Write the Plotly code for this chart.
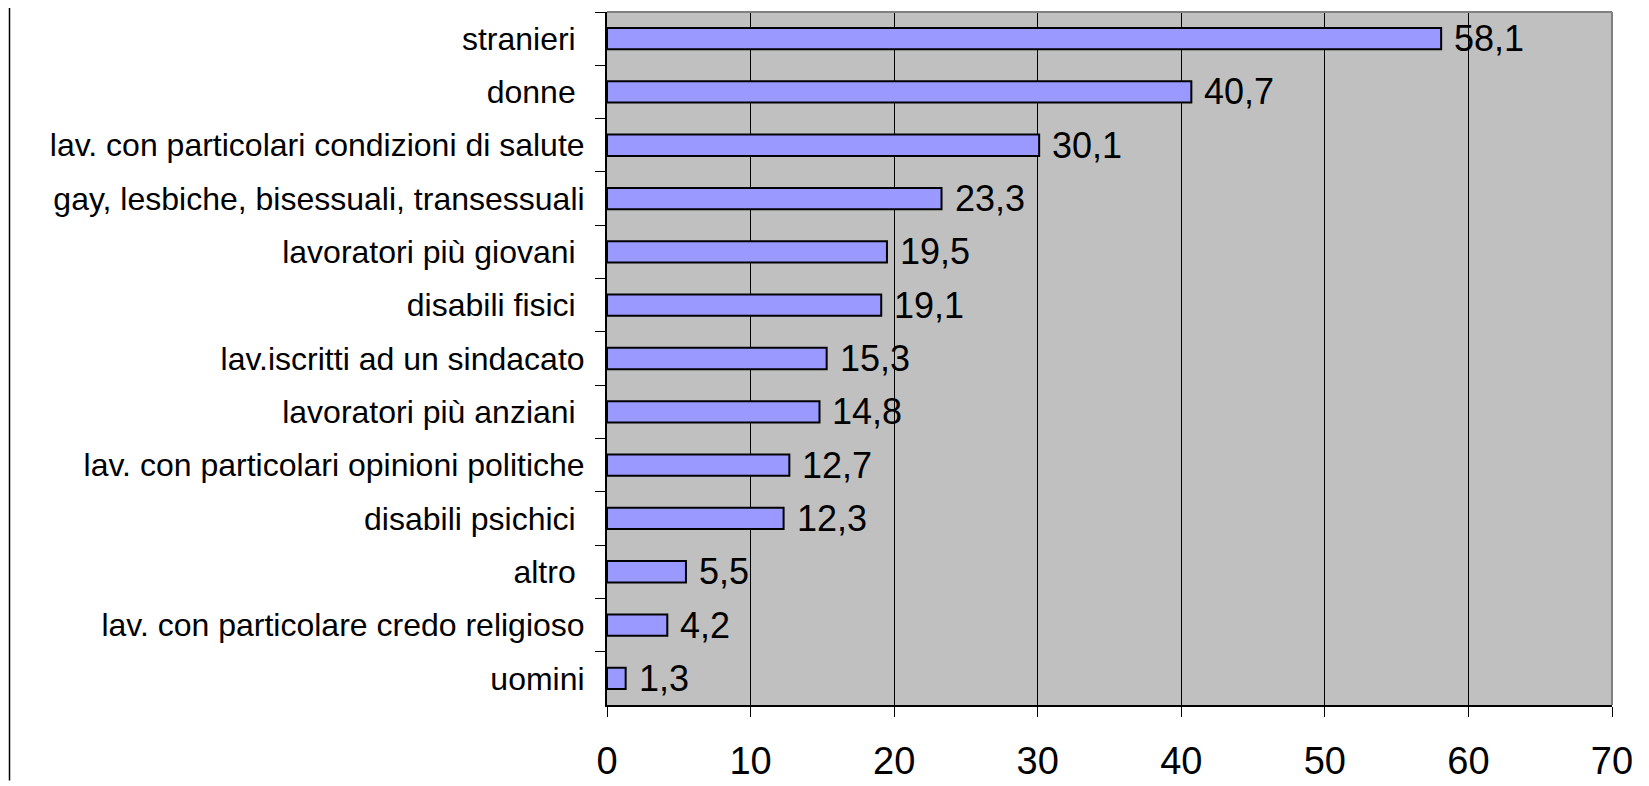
import plotly.graph_objects as go

categories = [
    "stranieri\u00a0",
    "donne\u00a0",
    "lav. con particolari condizioni di salute",
    "gay, lesbiche, bisessuali, transessuali",
    "lavoratori più giovani\u00a0",
    "disabili fisici\u00a0",
    "lav.iscritti ad un sindacato",
    "lavoratori più anziani\u00a0",
    "lav. con particolari opinioni politiche",
    "disabili psichici\u00a0",
    "altro\u00a0",
    "lav. con particolare credo religioso",
    "uomini",
]
values = [58.1, 40.7, 30.1, 23.3, 19.5, 19.1, 15.3, 14.8, 12.7, 12.3, 5.5, 4.2, 1.3]
x_ticks = [0, 10, 20, 30, 40, 50, 60, 70]

# page body has an 8px default margin; the figure is offset by it
OFF = 8
W, H = 1649 - OFF, 786 - OFF
ML, MR, MT, MB = 607 - OFF, 37, 12 - OFF, 786 - 710
FONT = "Liberation Sans, Arial, sans-serif"

fig = go.Figure()
fig.add_trace(go.Bar(
    x=values, y=categories, orientation="h",
    marker=dict(color="#9999FF", line=dict(color="black", width=2)),
    hoverinfo="x+y",
))

annotations = []
for c, v in zip(categories, values):
    annotations.append(dict(
        x=v, y=c, xref="x", yref="y",
        text=f"{v:.1f}".replace(".", ","),
        showarrow=False, xanchor="left", yanchor="middle",
        xshift=11, font=dict(family=FONT, size=36, color="black"),
    ))

pw = W - ML - MR
ph = H - MT - MB
shapes = [
    dict(type="line", xref="paper", yref="paper", x0=0, x1=1, y0=1, y1=1,
         line=dict(color="#808080", width=2), layer="above"),
    dict(type="line", xref="paper", yref="paper", x0=1, x1=1, y0=0, y1=1,
         line=dict(color="#808080", width=2), layer="above"),
    dict(type="line", xref="paper", yref="paper",
         x0=(1.5 - ML) / pw, x1=(1.5 - ML) / pw, y0=-MB / ph, y1=1 + MT / ph,
         line=dict(color="black", width=1.5)),
]

fig.update_layout(
    width=W, height=H,
    margin=dict(l=ML, r=MR, t=MT, b=MB, pad=0),
    paper_bgcolor="white", plot_bgcolor="#C0C0C0",
    bargap=0.6, showlegend=False,
    font=dict(family=FONT, color="black"),
    annotations=annotations, shapes=shapes,
)
fig.update_xaxes(
    range=[0, 70], tickvals=x_ticks, ticktext=[str(t) for t in x_ticks],
    showgrid=True, gridcolor="black", gridwidth=1,
    showline=True, linecolor="black", linewidth=2,
    ticks="outside", ticklen=10, tickcolor="black", tickwidth=1,
    tickfont=dict(family=FONT, size=38, color="black"),
    ticklabelstandoff=11, zeroline=False, fixedrange=True,
)
fig.update_yaxes(
    autorange="reversed", type="category",
    showline=True, linecolor="black", linewidth=2,
    ticks="outside", ticklen=10, tickcolor="black", tickwidth=1,
    tickson="boundaries", showgrid=False,
    tickfont=dict(family=FONT, size=32, color="black"),
    ticklabelstandoff=14, fixedrange=True,
)

fig.write_html("out.html")
